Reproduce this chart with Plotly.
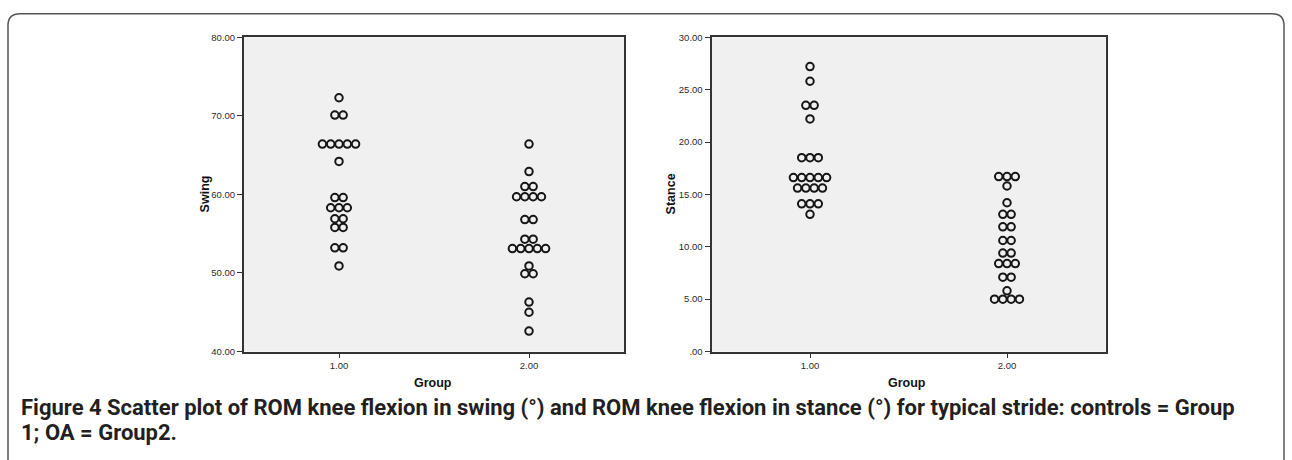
import plotly.graph_objects as go
from collections import Counter

# ---- data ----
group_ticks = [1.00, 2.00]
group_labels = ["1.00", "2.00"]

swing_g1 = [72.3, 70.1, 70.1, 66.4, 66.4, 66.4, 66.4, 66.4, 64.2,
            59.6, 59.6, 58.3, 58.3, 58.3, 56.9, 56.9, 55.8, 55.8,
            53.2, 53.2, 50.9]
swing_g2 = [66.4, 62.9, 61.0, 61.0, 59.7, 59.7, 59.7, 59.7, 56.8, 56.8,
            54.3, 54.3, 53.1, 53.1, 53.1, 53.1, 53.1, 50.9, 49.9, 49.9,
            46.3, 45.0, 42.6]
stance_g1 = [27.2, 25.8, 23.5, 23.5, 22.2, 18.5, 18.5, 18.5,
             16.6, 16.6, 16.6, 16.6, 16.6, 15.6, 15.6, 15.6, 15.6,
             14.1, 14.1, 14.1, 13.1]
stance_g2 = [16.7, 16.7, 16.7, 15.8, 14.2, 13.1, 13.1, 11.9, 11.9,
             10.6, 10.6, 9.4, 9.4, 8.4, 8.4, 8.4, 7.1, 7.1, 5.8,
             5.0, 5.0, 5.0, 5.0]

swing_ticks = [40, 50, 60, 70, 80]
swing_ticklabels = ["40.00", "50.00", "60.00", "70.00", "80.00"]
stance_ticks = [0, 5, 10, 15, 20, 25, 30]
stance_ticklabels = [".00", "5.00", "10.00", "15.00", "20.00", "25.00", "30.00"]

W, H = 1292, 460


def dot_x(center, values, step):
    """Dot-plot layout: equal values are stacked side by side, centred on the group."""
    counts = Counter(values)
    seen = {}
    xs = []
    for v in values:
        n = counts[v]
        i = seen.get(v, 0)
        seen[v] = i + 1
        xs.append(center + (i - (n - 1) / 2) * step)
    return xs


marker = dict(symbol="circle-open", size=7.5, color="#161616", line=dict(width=2, color="#161616"))

fig = go.Figure()
step_l = 8.3 / 190
step_r = 8.3 / 197
for vals, g in [(swing_g1, group_ticks[0]), (swing_g2, group_ticks[1])]:
    fig.add_trace(go.Scatter(x=dot_x(g, vals, step_l), y=vals, mode="markers",
                             marker=marker, xaxis="x", yaxis="y", showlegend=False))
for vals, g in [(stance_g1, group_ticks[0]), (stance_g2, group_ticks[1])]:
    fig.add_trace(go.Scatter(x=dot_x(g, vals, step_r), y=vals, mode="markers",
                             marker=marker, xaxis="x2", yaxis="y2", showlegend=False))

tickfont = dict(family="Liberation Sans, Arial", size=9.5, color="#2a2a2a")
axis_common = dict(showgrid=False, zeroline=False, showline=True, linecolor="#333333",
                   linewidth=2, mirror=True, ticks="outside", ticklen=5, tickwidth=1,
                   tickcolor="#333333", tickfont=tickfont)

ytop = 1 - 32 / H
ybot = 1 - 354 / H

fig.update_layout(
    width=W, height=H,
    margin=dict(l=0, r=0, t=0, b=0),
    paper_bgcolor="white",
    plot_bgcolor="#f0f0f0",
    xaxis=dict(domain=[244 / W, 624 / W], range=[0.5, 2.5], tickvals=group_ticks,
               ticktext=group_labels, anchor="y", **axis_common),
    yaxis=dict(domain=[ybot, ytop], range=[40, 80], tickvals=swing_ticks,
               ticktext=swing_ticklabels, anchor="x", **axis_common),
    xaxis2=dict(domain=[711.5 / W, 1105.5 / W], range=[0.5, 2.5], tickvals=group_ticks,
                ticktext=group_labels, anchor="y2", **axis_common),
    yaxis2=dict(domain=[ybot, ytop], range=[0, 30], tickvals=stance_ticks,
                ticktext=stance_ticklabels, anchor="x2", **axis_common),
)

for xa in ["xaxis", "xaxis2"]:
    fig.layout[xa].update(ticklen=4)

title_font = dict(family="Liberation Sans, Arial", size=12.5, color="#111111")
annots = [
    dict(text="<b>Swing</b>", x=205 / W, y=1 - 193 / H, textangle=-90),
    dict(text="<b>Stance</b>", x=671 / W, y=1 - 193 / H, textangle=-90),
    dict(text="<b>Group</b>", x=433 / W, y=1 - 386 / H),
    dict(text="<b>Group</b>", x=907 / W, y=1 - 386 / H),
]
for a in annots:
    fig.add_annotation(xref="paper", yref="paper", showarrow=False, font=title_font,
                       xanchor="center", yanchor="middle", **a)

caption_lines = [
    "Figure 4 Scatter plot of ROM knee flexion in swing (°) and ROM knee flexion "
    "in stance (°) for typical stride: controls = Group",
    "1; OA = Group2.",
]
caption_y = [411, 437]
for line, yy in zip(caption_lines, caption_y):
    fig.add_annotation(xref="paper", yref="paper", showarrow=False, x=19 / W, y=1 - yy / H,
                       xanchor="left", yanchor="middle", align="left", text=line,
                       font=dict(family="Roboto", size=22, color="#231f20", weight="bold"))

# outer rounded frame
def px(x, y):
    return f"{x / W:.5f},{1 - y / H:.5f}"

frame = (f"M {px(8, 470)} L {px(8, 20)} Q {px(8, 8)} {px(20, 8)} L {px(1272, 8)} "
         f"Q {px(1284, 8)} {px(1284, 20)} L {px(1284, 470)}")
fig.add_shape(type="path", xref="paper", yref="paper", path=frame,
              line=dict(color="#555555", width=1.5), layer="below")

fig.write_html("out.html")
